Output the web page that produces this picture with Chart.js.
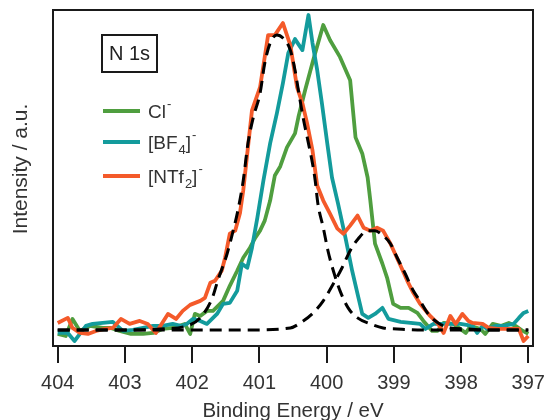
<!DOCTYPE html>
<html>
<head>
<meta charset="utf-8">
<script src="https://cdn.jsdelivr.net/npm/chart.js@4.4.0/dist/chart.umd.min.js"></script>
<style>
  html, body { margin: 0; padding: 0; background: #fff; }
</style>
</head>
<body>
<canvas id="xpsChart" width="544" height="420"></canvas>
<script>
// tick labels on the binding energy axis
const xTicks = [404, 403, 402, 401, 400, 399, 398, 397];

// Cl-
const clEnergy = [404.00, 403.88, 403.78, 403.67, 403.52, 403.33, 403.21, 403.08, 402.91, 402.73, 402.58, 402.44, 402.29, 402.11, 402.03, 401.96, 401.88, 401.78, 401.69, 401.54, 401.44, 401.33, 401.24, 401.14, 401.06, 400.99, 400.92, 400.84, 400.77, 400.69, 400.59, 400.47, 400.42, 400.32, 400.20, 400.05, 399.95, 399.80, 399.65, 399.57, 399.47, 399.39, 399.35, 399.28, 399.17, 399.10, 399.01, 398.90, 398.78, 398.65, 398.56, 398.43, 398.35, 398.26, 398.11, 398.01, 397.93, 397.86, 397.71, 397.64, 397.53, 397.41, 397.29, 397.19, 397.08, 397.00];
const clIntensity = [-4, -6, 11, -1, 4, 2, 2, -1, -4, -4, -3, 1, 2, 6, -4, 16, 14, 19, 19, 29, 44, 59, 72, 82, 92, 99, 109, 129, 154, 163, 182, 196, 212, 239, 269, 304, 289, 272, 249, 192, 176, 152, 129, 86, 66, 52, 26, 22, 22, 17, 9, -1, -1, 7, 6, 1, -3, 4, 1, -4, 6, 4, 7, 4, -1, -4];

// [BF4]-
const bf4Energy = [404.00, 403.85, 403.75, 403.67, 403.58, 403.48, 403.33, 403.18, 403.03, 402.88, 402.73, 402.58, 402.44, 402.29, 402.17, 402.08, 401.99, 401.88, 401.78, 401.63, 401.54, 401.44, 401.33, 401.26, 401.18, 401.11, 401.03, 400.94, 400.84, 400.74, 400.65, 400.57, 400.47, 400.36, 400.27, 400.21, 400.14, 400.07, 399.99, 399.92, 399.83, 399.72, 399.62, 399.54, 399.47, 399.38, 399.28, 399.17, 399.08, 398.90, 398.75, 398.61, 398.53, 398.41, 398.20, 398.01, 397.83, 397.76, 397.68, 397.61, 397.49, 397.37, 397.22, 397.14, 397.07, 397.00];
const bf4Intensity = [-3, -3, -11, -4, 4, 6, 7, 8, -1, 0, 2, 4, 4, 6, 4, 6, 11, 9, 6, 16, 26, 27, 39, 66, 62, 82, 112, 149, 186, 216, 246, 276, 290, 279, 314, 286, 259, 226, 186, 152, 126, 92, 59, 36, 16, 12, 16, 22, 11, 8, 7, 6, 1, 6, 6, 6, 4, -3, 4, 1, 4, 4, 6, 12, 17, 19];

// [NTf2]-
const ntf2Energy = [404.00, 403.85, 403.78, 403.67, 403.55, 403.43, 403.30, 403.18, 403.06, 402.93, 402.78, 402.66, 402.54, 402.36, 402.24, 402.14, 402.03, 401.88, 401.81, 401.73, 401.66, 401.56, 401.51, 401.44, 401.36, 401.29, 401.24, 401.11, 400.99, 400.87, 400.77, 400.65, 400.54, 400.44, 400.36, 400.29, 400.21, 400.14, 400.05, 399.95, 399.84, 399.75, 399.65, 399.54, 399.45, 399.35, 399.25, 399.16, 399.05, 398.90, 398.80, 398.71, 398.61, 398.46, 398.34, 398.26, 398.16, 398.08, 397.98, 397.89, 397.83, 397.68, 397.59, 397.46, 397.26, 397.14, 397.07, 397.00];
const ntf2Intensity = [7, 12, 2, -3, -4, -1, 1, 2, 11, 6, 9, 6, -3, 16, 11, 19, 25, 29, 32, 47, 49, 59, 72, 96, 99, 116, 139, 219, 242, 294, 294, 306, 284, 242, 226, 206, 179, 144, 129, 116, 101, 96, 104, 114, 102, 99, 102, 99, 86, 64, 49, 37, 26, 14, 6, -3, 14, 6, 16, 9, 7, 6, 2, 1, 1, 1, -11, -6];

// fitted components (dashed)
const fitAEnergy = [404.00, 402.93, 402.48, 402.08, 401.88, 401.70, 401.62, 401.48, 401.39, 401.32, 401.24, 401.17, 401.09, 400.99, 400.92, 400.84, 400.74, 400.65, 400.54, 400.47, 400.42, 400.35, 400.27, 400.21, 400.17, 400.13, 400.05, 399.98, 399.90, 399.80, 399.68, 399.54, 399.35, 399.16, 398.95, 398.65, 397.00];
const fitAIntensity = [0, 0, 1, 4, 12, 32, 49, 76, 99, 119, 149, 186, 212, 236, 266, 286, 294, 291, 279, 259, 239, 212, 186, 166, 149, 126, 102, 79, 59, 39, 22, 12, 6, 2, 1, 0, 0];
const fitBEnergy = [404.00, 401.14, 400.54, 400.39, 400.20, 400.05, 399.90, 399.77, 399.65, 399.53, 399.39, 399.28, 399.16, 399.05, 398.95, 398.83, 398.71, 398.61, 398.49, 398.34, 398.16, 397.90, 397.61, 397.00];
const fitBIntensity = [0, 0, 2, 7, 17, 29, 46, 62, 79, 91, 99, 99, 94, 86, 72, 56, 39, 29, 16, 7, 2, 1, 0, 0];

const FONT = "'Liberation Sans', Arial, sans-serif";
const GREEN = '#4f9e3f';
const TEAL = '#139b9c';
const ORANGE = '#f45a2a';

function pairs(xs, ys) {
    return xs.map((x, i) => ({ x: x, y: ys[i] }));
}

function lineSet(label, xs, ys, color, order) {
    return {
        label: label,
        data: pairs(xs, ys),
        borderColor: color,
        borderWidth: 3.8,
        borderJoinStyle: 'round',
        pointRadius: 0,
        tension: 0,
        order: order
    };
}

function fitSet(label, xs, ys) {
    return {
        label: label,
        data: pairs(xs, ys),
        borderColor: '#000',
        borderWidth: 3,
        borderDash: [12, 7],
        pointRadius: 0,
        cubicInterpolationMode: 'monotone',
        order: 0
    };
}

// text with sub/superscripts drawn piece by piece
function drawRich(ctx, x, y, parts) {
    parts.forEach(p => {
        let size = 19, dy = 0;
        if (p.mode === 'sub') { size = 13; dy = 5; }
        if (p.mode === 'sup') { size = 13; dy = -10; }
        ctx.font = size + 'px ' + FONT;
        ctx.fillText(p.text, x, y + dy);
        x += ctx.measureText(p.text).width + (p.mode === 'normal' ? 1 : 0);
    });
}

const legendItems = [
    { color: GREEN, y: 111, parts: [{ text: 'Cl', mode: 'normal' }, { text: '-', mode: 'sup' }] },
    { color: TEAL, y: 142, parts: [{ text: '[BF', mode: 'normal' }, { text: '4', mode: 'sub' }, { text: ']', mode: 'normal' }, { text: '-', mode: 'sup' }] },
    { color: ORANGE, y: 176, parts: [{ text: '[NTf', mode: 'normal' }, { text: '2', mode: 'sub' }, { text: ']', mode: 'normal' }, { text: '-', mode: 'sup' }] }
];

const frameAndLegend = {
    id: 'frameAndLegend',
    afterDraw(chart) {
        const { ctx, chartArea: a } = chart;
        ctx.save();
        ctx.strokeStyle = '#1a1a1a';
        ctx.lineWidth = 2;
        ctx.strokeRect(a.left, a.top, a.right - a.left, a.bottom - a.top);

        // y axis title (no y ticks in this plot)
        ctx.save();
        ctx.translate(21, 169);
        ctx.rotate(-Math.PI / 2);
        ctx.fillStyle = '#333';
        ctx.font = '21px ' + FONT;
        ctx.textAlign = 'center';
        ctx.textBaseline = 'middle';
        ctx.fillText('Intensity / a.u.', 0, 0);
        ctx.restore();

        // region label box
        ctx.strokeRect(102, 35, 55, 37);
        ctx.fillStyle = '#222';
        ctx.font = '20px ' + FONT;
        ctx.textAlign = 'center';
        ctx.textBaseline = 'middle';
        ctx.fillText('N 1s', 129.5, 54);

        ctx.textAlign = 'left';
        ctx.textBaseline = 'alphabetic';
        legendItems.forEach(item => {
            ctx.strokeStyle = item.color;
            ctx.lineWidth = 4;
            ctx.beginPath();
            ctx.moveTo(103, item.y);
            ctx.lineTo(140, item.y);
            ctx.stroke();
            ctx.fillStyle = '#333';
            drawRich(ctx, 148, item.y + 7, item.parts);
        });
        ctx.restore();
    }
};

new Chart(document.getElementById('xpsChart').getContext('2d'), {
    type: 'line',
    data: {
        datasets: [
            fitSet('fit 1', fitAEnergy, fitAIntensity),
            fitSet('fit 2', fitBEnergy, fitBIntensity),
            lineSet('[NTf2]-', ntf2Energy, ntf2Intensity, ORANGE, 1),
            lineSet('[BF4]-', bf4Energy, bf4Intensity, TEAL, 2),
            lineSet('Cl-', clEnergy, clIntensity, GREEN, 3)
        ]
    },
    options: {
        responsive: false,
        animation: false,
        layout: { padding: { left: 53, right: 11, top: 10, bottom: 0 } },
        plugins: { legend: { display: false }, tooltip: { enabled: false } },
        scales: {
            x: {
                type: 'linear',
                reverse: true,
                min: 396.93,
                max: 404.07,
                afterBuildTicks: axis => { axis.ticks = xTicks.map(v => ({ value: v })); },
                afterFit: axis => { axis.paddingLeft = 0; axis.paddingRight = 0; axis.height = 74; },
                border: { display: false },
                grid: { drawOnChartArea: false, drawTicks: true, tickLength: 17, color: '#1a1a1a', lineWidth: 2 },
                ticks: { padding: 10, color: '#333', font: { family: FONT, size: 20, lineHeight: 1 }, callback: v => String(v) },
                title: { display: true, text: 'Binding Energy / eV', color: '#333', font: { family: FONT, size: 20.5, lineHeight: 0.8 }, padding: { top: 0, bottom: 0 } }
            },
            y: {
                display: false,
                min: -16,
                max: 319
            }
        }
    },
    plugins: [frameAndLegend]
});
</script>
</body>
</html>
